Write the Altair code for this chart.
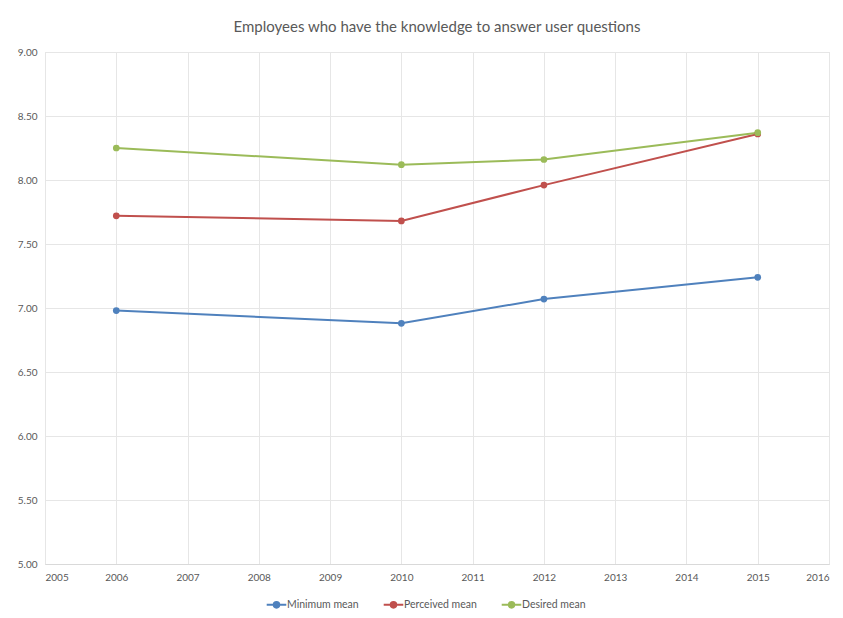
import altair as alt
import pandas as pd

years = [2006, 2010, 2012, 2015]
minimum_mean = [6.98, 6.88, 7.07, 7.24]
perceived_mean = [7.72, 7.68, 7.96, 8.36]
desired_mean = [8.25, 8.12, 8.16, 8.37]
series_names = ["Minimum mean", "Perceived mean", "Desired mean"]
series_colors = ["#4F81BD", "#C0504D", "#9BBB59"]
x_ticks = list(range(2005, 2017))
y_ticks = [5.0, 5.5, 6.0, 6.5, 7.0, 7.5, 8.0, 8.5, 9.0]

rows = []
for name, vals in zip(series_names, [minimum_mean, perceived_mean, desired_mean]):
    for y, v in zip(years, vals):
        rows.append({"Year": y, "Value": v, "Series": name})
df = pd.DataFrame(rows)

FONT = "Lato"
LABEL = "#595959"

color = alt.Color(
    "Series:N",
    scale=alt.Scale(domain=series_names, range=series_colors),
    legend=alt.Legend(
        title=None,
        orient="none",
        direction="horizontal",
        legendX=224,
        legendY=545,
        symbolType="M -1.6 0 L 1.6 0 M 0.45 0 A 0.45 0.45 0 1 1 -0.45 0 A 0.45 0.45 0 1 1 0.45 0",
        symbolSize=150,
        symbolStrokeWidth=2,
        labelFont=FONT,
        labelFontSize=10.5,
        labelColor=LABEL,
        columnPadding=20,
        labelOffset=3,
    ),
)

x = alt.X(
    "Year:Q",
    scale=alt.Scale(domain=[2005, 2016], nice=False, zero=False),
    axis=alt.Axis(
        title=None,
        values=x_ticks,
        format="d",
        tickSize=0,
        labelPadding=8,
        labelFont=FONT,
        labelFontSize=10,
        labelColor=LABEL,
        domainColor="#D9D9D9",
        gridColor="#E6E6E6",
    ),
)
y = alt.Y(
    "Value:Q",
    scale=alt.Scale(domain=[5, 9], nice=False, zero=False),
    axis=alt.Axis(
        title=None,
        values=y_ticks,
        format=".2f",
        tickSize=0,
        labelPadding=8,
        labelFont=FONT,
        labelFontSize=10,
        labelColor=LABEL,
        domain=False,
        gridColor="#E6E6E6",
    ),
)

base = alt.Chart(df)
lines = base.mark_line(strokeWidth=2).encode(x=x, y=y, color=color)
points = base.mark_point(filled=True, size=45, opacity=1).encode(x=x, y=y, color=color)

chart = (
    alt.layer(lines, points)
    .properties(
        width=784,
        height=512,
        title=alt.TitleParams(
            "Employees who have the knowledge to answer user questions",
            font=FONT,
            fontSize=15,
            fontWeight="normal",
            color=LABEL,
            offset=12,
        ),
        autosize=alt.AutoSizeParams(type="none"),
        padding={"left": 37, "top": 44, "right": 6, "bottom": 50},
    )
    .configure_view(stroke=None)
    .configure(background="white")
)

chart.save("out.html", embed_options={"renderer": "svg", "actions": False})
